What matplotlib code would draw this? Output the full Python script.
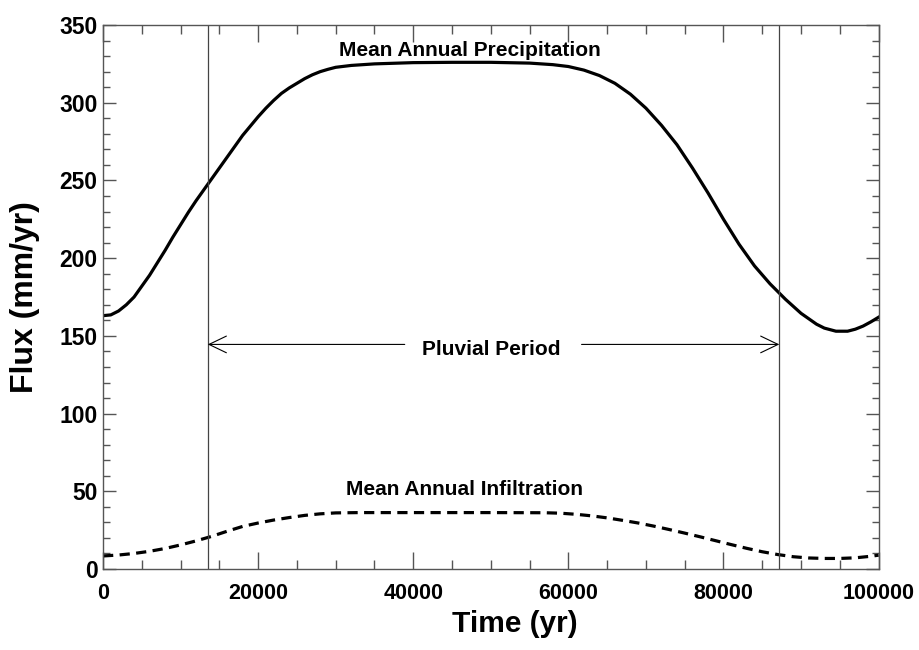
import numpy as np
import matplotlib
matplotlib.use("Agg")
import matplotlib.pyplot as plt
from matplotlib.ticker import MultipleLocator

plt.rcParams["font.family"] = ["Liberation Sans", "DejaVu Sans"]
plt.rcParams["font.weight"] = "bold"

# mean annual precipitation (mm/yr) vs time (yr)
precip_t = [0, 1000, 2000, 3000, 4000, 5000, 6000, 7000, 8000, 9000, 10000, 11000, 12000,
            13000, 14000, 15000, 16000, 17000, 18000, 19000, 20000, 21000, 22000, 23000,
            24000, 25000, 26000, 27000, 28000, 29000, 30000, 32000, 35000, 40000, 45000,
            50000, 55000, 58000, 60000, 62000, 64000, 66000, 68000, 70000, 72000, 74000,
            76000, 78000, 80000, 82000, 84000, 86000, 87200, 88000, 90000, 92000, 93000,
            94500, 96000, 97000, 98000, 99000, 100000]
precip_v = [163, 163.5, 166, 170, 175, 182, 189, 197, 205, 213.5, 221.5, 229.5, 237,
            244, 251, 258, 265, 272, 279, 285, 291, 296.5, 301.5, 306,
            309.5, 312.5, 315.5, 318, 320, 321.5, 322.8, 324, 325, 325.8, 326,
            326, 325.5, 324.5, 323.3, 321, 317.5, 312.5, 305.5, 296.5, 285.5, 273,
            258, 242, 225, 209, 195, 183.5, 177.5, 173.5, 164.5, 157.5, 155,
            153, 153, 154.3, 156.3, 159, 162]

# mean annual infiltration (mm/yr)
infil_t = [0, 2000, 4000, 6000, 8000, 10000, 12000, 14000, 16000, 18000, 20000, 22000,
           24000, 26000, 28000, 30000, 33000, 40000, 50000, 57000, 59000, 61000, 63000,
           65000, 67000, 69000, 71000, 73000, 75000, 77000, 79000, 81000, 83000, 85000,
           87000, 89000, 91000, 93000, 95000, 97000, 99000, 100000]
infil_v = [8.4, 9.0, 10.0, 11.4, 13.2, 15.5, 18.1, 21.0, 24.3, 27.4, 29.6, 31.5,
           33.1, 34.5, 35.5, 36.1, 36.3, 36.3, 36.3, 36.2, 35.9, 35.2, 34.2,
           32.9, 31.3, 29.6, 27.6, 25.4, 23.1, 20.7, 18.2, 15.7, 13.3, 11.1,
           9.3, 7.9, 7.1, 6.8, 6.8, 7.2, 8.2, 8.9]

pluvial_start, pluvial_end = 13500, 87200

fig = plt.figure(figsize=(9.2, 6.5), dpi=100)
ax = fig.add_axes([0.112, 0.1246, 0.843, 0.8369])

ax.plot(precip_t, precip_v, color="black", lw=2.3, solid_joinstyle="round")
ax.plot(infil_t, infil_v, color="black", lw=2.3, dashes=(3.2, 2.0))

for xv in (pluvial_start, pluvial_end):
    ax.axvline(xv, color="#444444", lw=0.9)

# pluvial period arrows, split around the label
arr = dict(arrowstyle="->,head_length=1.25,head_width=0.6", color="black", lw=0.8,
           shrinkA=0, shrinkB=0, mutation_scale=10)
ax.annotate("", xy=(pluvial_start, 144.5), xytext=(38900, 144.5), arrowprops=arr)
ax.annotate("", xy=(pluvial_end, 144.5), xytext=(61700, 144.5), arrowprops=arr)

txt = dict(ha="center", va="baseline", fontsize=15, fontweight="bold")
ax.text(47300, 330, "Mean Annual Precipitation", **txt)
ax.text(46650, 47.6, "Mean Annual Infiltration", **txt)
ax.text(50000, 137.7, "Pluvial Period", **txt)

ax.set_xlim(0, 100000)
ax.set_ylim(0, 350)
ax.xaxis.set_major_locator(MultipleLocator(20000))
ax.xaxis.set_minor_locator(MultipleLocator(5000))
ax.yaxis.set_major_locator(MultipleLocator(50))
ax.yaxis.set_minor_locator(MultipleLocator(10))

ax.tick_params(axis="both", which="both", direction="in", top=True, right=True,
               color="#555555", width=1)
ax.tick_params(axis="x", which="major", length=12, pad=10, labelsize=15.5)
ax.tick_params(axis="x", which="minor", length=6.5)
ax.tick_params(axis="y", which="major", length=9.5, pad=4, labelsize=16.5)
ax.tick_params(axis="y", which="minor", length=5)
for lab in ax.get_xticklabels() + ax.get_yticklabels():
    lab.set_fontweight("bold")
for sp in ax.spines.values():
    sp.set_color("#555555")
    sp.set_linewidth(1)

ax.set_xlabel("Time (yr)", fontsize=21.5, fontweight="bold")
ax.xaxis.set_label_coords(0.531, -0.075)
ax.set_ylabel("Flux (mm/yr)", fontsize=23, fontweight="bold", labelpad=14)

fig.savefig("out.png", dpi=100)
